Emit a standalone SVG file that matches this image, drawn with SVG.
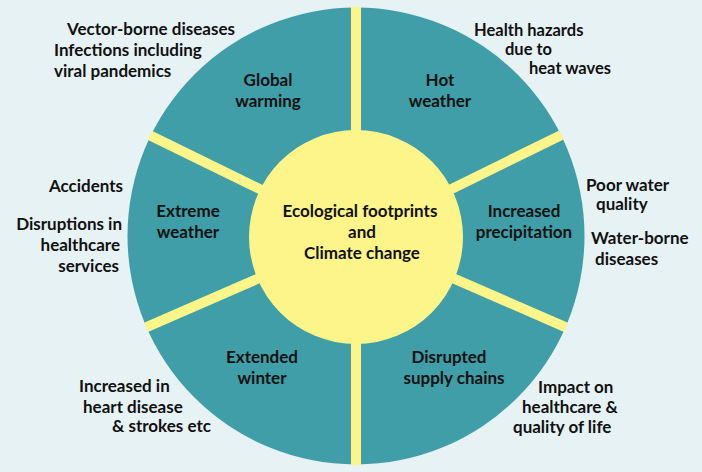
<svg xmlns="http://www.w3.org/2000/svg" width="702" height="472" viewBox="0 0 702 472">
<style>
  text { font-family: Lato, "Open Sans", "Liberation Sans", sans-serif; font-weight: bold; font-size: 17px; fill: #111; }
  .c { text-anchor: middle; }
  .e { text-anchor: end; }
  .t { font-size: 16.5px; }
  .spoke { stroke: #fdf48a; stroke-width: 10; stroke-linecap: butt; }
</style>
<rect x="0" y="0" width="702" height="472" fill="#e7f2f5"/>
<circle id="wheel" cx="356" cy="236" r="228.5" fill="#3f9ea7"/>
<g id="connectors">
  <line class="spoke" x1="356" y1="236" x2="356" y2="7"/>
  <line class="spoke" x1="356" y1="236" x2="356" y2="465"/>
  <line class="spoke" x1="356" y1="236" x2="561.4" y2="134.9"/>
  <line class="spoke" x1="356" y1="236" x2="150.2" y2="135.6"/>
  <line class="spoke" x1="356" y1="236" x2="566" y2="327.3"/>
  <line class="spoke" x1="356" y1="236" x2="146" y2="327.3"/>
</g>
<g id="center">
  <circle cx="356" cy="237" r="107" fill="#fdf48a"/>
  <text class="c" x="360" y="217">Ecological footprints</text>
  <text class="c" x="362" y="238">and</text>
  <text class="c" x="362" y="259">Climate change</text>
</g>
<g id="global-warming">
  <text class="c" x="268" y="86">Global</text>
  <text class="c" x="268" y="107">warming</text>
</g>
<g id="hot-weather">
  <text class="c" x="440" y="86">Hot</text>
  <text class="c" x="440" y="107">weather</text>
</g>
<g id="increased-precipitation">
  <text class="c" x="524" y="217">Increased</text>
  <text class="c" x="524" y="238">precipitation</text>
</g>
<g id="extreme-weather">
  <text class="c" x="188" y="217">Extreme</text>
  <text class="c" x="188" y="238">weather</text>
</g>
<g id="extended-winter">
  <text class="c" x="262" y="363">Extended</text>
  <text class="c" x="262" y="384">winter</text>
</g>
<g id="disrupted-supply-chains">
  <text class="c" x="449" y="363">Disrupted</text>
  <text class="c" x="454" y="384">supply chains</text>
</g>
<g id="effects-global-warming">
  <text x="67" y="35">Vector-borne diseases</text>
  <text x="54" y="56">Infections including</text>
  <text x="54" y="77">viral pandemics</text>
</g>
<g id="effects-hot-weather">
  <text class="t" x="474" y="36">Health hazards</text>
  <text class="t" x="505" y="55">due to</text>
  <text class="t" x="529" y="74">heat waves</text>
</g>
<g id="effects-extreme-weather">
  <text class="e" x="123" y="192">Accidents</text>
  <text class="e" x="122" y="230">Disruptions in</text>
  <text class="e" x="120" y="251">healthcare</text>
  <text class="e" x="119" y="272">services</text>
</g>
<g id="effects-precipitation">
  <text x="586" y="191">Poor water</text>
  <text x="596" y="210">quality</text>
  <text x="591" y="244">Water-borne</text>
  <text x="595" y="265">diseases</text>
</g>
<g id="effects-extended-winter">
  <text x="79" y="392">Increased in</text>
  <text x="83" y="413">heart disease</text>
  <text x="112" y="432">&amp; strokes etc</text>
</g>
<g id="effects-supply-chains">
  <text x="538" y="393">Impact on</text>
  <text x="522" y="413">healthcare &amp;</text>
  <text x="513" y="433">quality of life</text>
</g>
</svg>
